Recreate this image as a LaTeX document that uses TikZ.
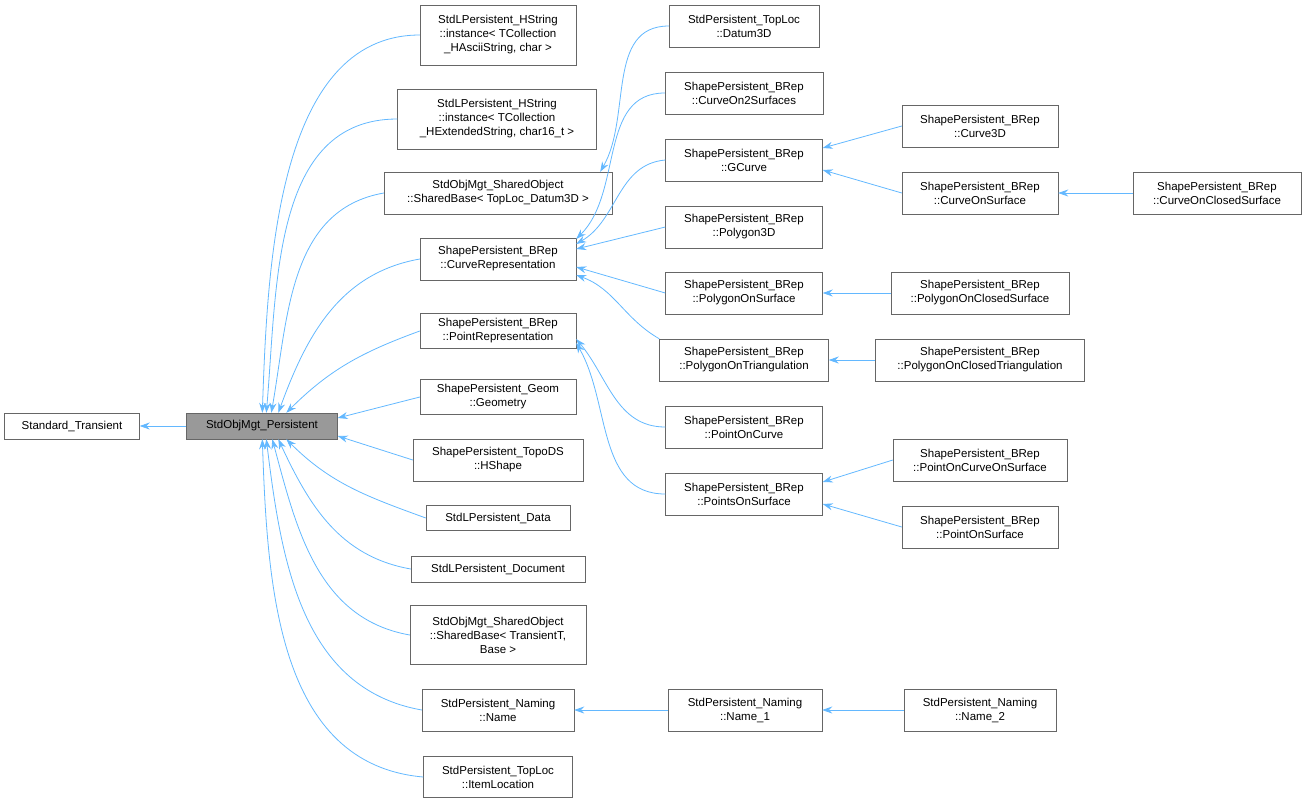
\documentclass[tikz,border=0pt]{standalone}
\usepackage{fontspec}
\setmainfont{Liberation Sans}
\usetikzlibrary{arrows.meta,calc}
\begin{document}
\begin{tikzpicture}[x=1pt,y=-1pt,
  box/.style={draw=black!60,fill=white,inner sep=1pt,align=center,font=\fontsize{11.5}{14}\selectfont},
  e/.style={draw={rgb,255:red,99;green,184;blue,255},-{Stealth[length=10,width=7]},line width=0.8pt}]
\useasboundingbox (0,0) rectangle (1306,804);
\newcommand{\bx}[6]{\node[box,minimum width=#4,minimum height=#5] (#1) at (#2,#3) {#6};}
\bx{ST}{72}{426}{135}{26}{Standard\_Transient}
\node[box,fill=black!40,minimum width=151,minimum height=26] (P) at (262,426) {StdObjMgt\_Persistent};
\bx{a1}{498}{35}{156}{60}{StdLPersistent\_HString\\::instance< TCollection\\\_HAsciiString, char >}
\bx{a2}{497}{119}{199}{60}{StdLPersistent\_HString\\::instance< TCollection\\\_HExtendedString, char16\_t >}
\bx{a3}{498}{193}{228}{42}{StdObjMgt\_SharedObject\\::SharedBase< TopLoc\_Datum3D >}
\bx{a4}{498}{259}{156}{42}{ShapePersistent\_BRep\\::CurveRepresentation}
\bx{a5}{498}{331}{156}{35}{ShapePersistent\_BRep\\::PointRepresentation}
\bx{a6}{498}{397}{156}{35}{ShapePersistent\_Geom\\::Geometry}
\bx{a7}{498}{460}{170}{42}{ShapePersistent\_TopoDS\\::HShape}
\bx{a8}{498}{518}{144}{25}{StdLPersistent\_Data}
\bx{a9}{498}{569}{174}{26}{StdLPersistent\_Document}
\bx{a10}{498}{635}{176}{59}{StdObjMgt\_SharedObject\\::SharedBase< TransientT,\\ Base >}
\bx{a11}{498}{710}{152}{42}{StdPersistent\_Naming\\::Name}
\bx{a12}{498}{777}{149}{41}{StdPersistent\_TopLoc\\::ItemLocation}
\bx{b1}{744}{26}{150}{42}{StdPersistent\_TopLoc\\::Datum3D}
\bx{b2}{744}{93}{158}{42}{ShapePersistent\_BRep\\::CurveOn2Surfaces}
\bx{b3}{744}{160}{157}{42}{ShapePersistent\_BRep\\::GCurve}
\bx{b4}{744}{227}{157}{42}{ShapePersistent\_BRep\\::Polygon3D}
\bx{b5}{744}{293}{157}{42}{ShapePersistent\_BRep\\::PolygonOnSurface}
\bx{b6}{744}{360}{169}{42}{ShapePersistent\_BRep\\::PolygonOnTriangulation}
\bx{b7}{744}{427}{157}{42}{ShapePersistent\_BRep\\::PointOnCurve}
\bx{b8}{744}{494}{157}{42}{ShapePersistent\_BRep\\::PointsOnSurface}
\bx{b9}{745}{710}{154}{42}{StdPersistent\_Naming\\::Name\_1}
\bx{c1}{980}{126}{156}{42}{ShapePersistent\_BRep\\::Curve3D}
\bx{c2}{980}{193}{156}{42}{ShapePersistent\_BRep\\::CurveOnSurface}
\bx{c3}{980}{293}{178}{42}{ShapePersistent\_BRep\\::PolygonOnClosedSurface}
\bx{c4}{980}{360}{209}{42}{ShapePersistent\_BRep\\::PolygonOnClosedTriangulation}
\bx{c5}{980}{460}{174}{42}{ShapePersistent\_BRep\\::PointOnCurveOnSurface}
\bx{c6}{980}{527}{156}{42}{ShapePersistent\_BRep\\::PointOnSurface}
\bx{c7}{980}{710}{152}{42}{StdPersistent\_Naming\\::Name\_2}
\bx{d1}{1217}{193}{168}{42}{ShapePersistent\_BRep\\::CurveOnClosedSurface}
% edges
\draw[e] (P) -- (ST);
\draw[e] (a1.west) to[out=180,in=88,looseness=0.9] ($(P.north west)+(76,0)$);
\draw[e] (a2.west) to[out=180,in=85] ($(P.north west)+(80,0)$);
\draw[e] (a3.west) to[out=190,in=80] ($(P.north west)+(85,0)$);
\draw[e] (a4.west) to[out=190,in=70] ($(P.north west)+(92,0)$);
\draw[e] (a5.west) to[out=200,in=45] ($(P.north west)+(100,0)$);
\draw[e] (a6.west) -- ($(P.east)+(0,-8)$);
\draw[e] (a7.west) -- ($(P.east)+(0,10)$);
\draw[e] (a8.west) to[out=160,in=-45] ($(P.south west)+(100,0)$);
\draw[e] (a9.west) to[out=170,in=-65] ($(P.south west)+(92,0)$);
\draw[e] (a10.west) to[out=170,in=-75] ($(P.south west)+(86,0)$);
\draw[e] (a11.west) to[out=170,in=-83] ($(P.south west)+(80,0)$);
\draw[e] (a12.west) to[out=175,in=-88] ($(P.south west)+(76,0)$);
\draw[e] (b1.west) to[out=180,in=60] ($(a3.north east)+(-12,0)$);
\draw[e] (b2.west) to[out=180,in=45] ($(a4.east)+(0,-20)$);
\draw[e] (b3.west) to[out=185,in=30] ($(a4.east)+(0,-15)$);
\draw[e] (b4.west) -- ($(a4.east)+(0,-10)$);
\draw[e] (b5.west) -- ($(a4.east)+(0,8)$);
\draw[e] (b6.north west) to[out=150,in=-20] ($(a4.east)+(0,16)$);
\draw[e] (b7.west) to[out=180,in=-50] ($(a5.east)+(0,8)$);
\draw[e] (b8.west) to[out=180,in=-60] ($(a5.east)+(0,12)$);
\draw[e] (b9) -- (a11);
\draw[e] (c1.west) -- ($(b3.east)+(0,-12)$);
\draw[e] (c2.west) -- ($(b3.east)+(0,10)$);
\draw[e] (c3) -- (b5);
\draw[e] (c4) -- (b6);
\draw[e] (c5.west) -- ($(b8.east)+(0,-12)$);
\draw[e] (c6.west) -- ($(b8.east)+(0,10)$);
\draw[e] (c7) -- (b9);
\draw[e] (d1) -- (c2);
\end{tikzpicture}
\end{document}
